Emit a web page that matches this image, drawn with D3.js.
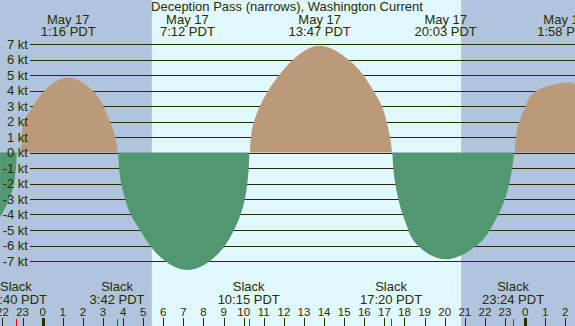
<!doctype html>
<html>
  <head>
    <script src="https://cdnjs.cloudflare.com/ajax/libs/d3/7.8.5/d3.min.js"></script>
    <style>
      body { margin: 0; }
      svg { display: block; }
    </style>
  </head>
  <body>
    <svg></svg>
    <script>
      var width = 575,
          height = 326;

      // hours after midnight May 17 (PDT), current speed in knots
      var hours = [-2.12, -2.04, -1.66, -1.43, -1.33, -1.29,
                   -1.08, -1.03, -0.93, -0.47, 0.11, 1.27, 2.49, 3.01, 3.35, 3.60, 3.73,
                   3.76, 3.80, 3.90, 4.10, 4.38, 4.84, 5.34, 6.09, 7.20, 8.32, 9.07, 9.52, 9.85, 10.06, 10.18, 10.25, 10.28,
                   10.31, 10.36, 10.51, 10.81, 11.22, 11.77, 12.47, 13.78, 15.20, 15.95, 16.45, 16.87, 17.11, 17.28, 17.38,
                   17.40, 17.44, 17.54, 17.69, 17.91, 18.19, 18.66, 20.05, 21.59, 22.25, 22.67, 23.00, 23.21, 23.36, 23.45,
                   23.48, 23.55, 23.71, 24.03, 24.58, 25.97, 26.48];
      var knots = [-4.1, -4, -3, -2, -1, 0,
                   0, 1, 2, 3, 4, 4.82, 4, 3, 2, 1, 0,
                   0, -1, -2, -3, -4, -5, -6, -7, -7.58, -7, -6, -5, -4, -3, -2, -1, 0,
                   0, 1, 2, 3, 4, 5, 6, 6.89, 6, 5, 4, 3, 2, 1, 0,
                   0, -1, -2, -3, -4, -5, -6, -6.89, -6, -5, -4, -3, -2, -1, 0,
                   0, 1, 2, 3, 4, 4.5, 4.4];

      var maxTimes = [1.27, 7.20, 13.78, 20.05, 25.97];
      var maxDates = ["May 17", "May 17", "May 17", "May 17", "May 18"];
      var maxLabels = ["1:16 PDT", "7:12 PDT", "13:47 PDT", "20:03 PDT", "1:58 PDT"];

      var slackTimes = [-1.33, 3.70, 10.25, 17.33, 23.40];
      var slackLabels = ["22:40 PDT", "3:42 PDT", "10:15 PDT", "17:20 PDT", "23:24 PDT"];

      var sunrise = 5.43, sunset = 20.82;
      var yTicks = d3.range(-7, 8);
      var title = "Deception Pass (narrows), Washington Current";

      var fg = "#2b2b00",
          nightColor = "#b0c4de",
          dayColor = "#e0f8ff",
          floodColor = "#bb9a7a",
          ebbColor = "#529672";

      var x = d3.scaleLinear().domain([-2.124, 26.483]).range([0, width]);
      var y = d3.scaleLinear().domain([-7, 7]).range([261, 44]);

      var data = hours.map(function(h, i) { return {t: h, v: knots[i]}; });

      // split into flood / ebb lobes, each running slack to slack
      var lobes = [], cur = [];
      data.forEach(function(d) {
        cur.push(d);
        if (d.v === 0 && cur.length > 1) { lobes.push(cur); cur = []; }
      });
      if (cur.length) lobes.push(cur);

      var svg = d3.select("svg").attr("width", width).attr("height", height)
          .style("font-family", "'Liberation Sans', Arial, sans-serif")
          .style("font-size", "13px");

      // night / day background
      svg.append("rect").attr("width", width).attr("height", height).attr("fill", nightColor);
      svg.append("rect")
          .attr("x", x(sunrise)).attr("width", x(sunset) - x(sunrise))
          .attr("height", height).attr("fill", dayColor);

      // grid lines
      svg.selectAll("line.grid").data(yTicks).enter().append("line")
          .attr("class", "grid")
          .attr("x1", 30).attr("x2", width)
          .attr("y1", function(d) { return Math.round(y(d)) + 0.5; })
          .attr("y2", function(d) { return Math.round(y(d)) + 0.5; })
          .attr("stroke", fg).attr("stroke-width", 1);

      // flood / ebb areas
      var area = d3.area().curve(d3.curveNatural)
          .x(function(d) { return x(d.t); })
          .y0(y(0))
          .y1(function(d) { return y(d.v); });
      svg.selectAll("path.lobe").data(lobes).enter().append("path")
          .attr("class", "lobe")
          .attr("d", area)
          .attr("fill", function(d) { return d3.sum(d, function(p) { return p.v; }) > 0 ? floodColor : ebbColor; });

      // y labels
      svg.selectAll("text.ylab").data(yTicks).enter().append("text")
          .attr("class", "ylab")
          .attr("x", 28).attr("y", function(d) { return y(d) + 4.5; })
          .attr("text-anchor", "end").attr("fill", fg)
          .text(function(d) { return d + " kt"; });

      // title
      svg.append("text").attr("x", 287).attr("y", 11)
          .attr("text-anchor", "middle").attr("fill", fg).text(title);

      // max current labels
      var maxG = svg.selectAll("g.max").data(maxTimes).enter().append("g")
          .attr("class", "max").attr("fill", fg).attr("text-anchor", "middle");
      maxG.append("text").attr("x", function(d) { return x(d); }).attr("y", 24)
          .text(function(d, i) { return maxDates[i]; });
      maxG.append("text").attr("x", function(d) { return x(d); }).attr("y", 35.5)
          .text(function(d, i) { return maxLabels[i]; });

      // slack labels
      var slackG = svg.selectAll("g.slack").data(slackTimes).enter().append("g")
          .attr("class", "slack").attr("fill", fg).attr("text-anchor", "middle");
      slackG.append("text").attr("x", function(d) { return x(d); }).attr("y", 291)
          .text("Slack");
      slackG.append("text").attr("x", function(d) { return x(d); }).attr("y", 303.5)
          .text(function(d, i) { return slackLabels[i]; });

      // hour ticks
      var hourTicks = d3.range(-2, 27);
      svg.selectAll("text.hour").data(hourTicks).enter().append("text")
          .attr("class", "hour")
          .attr("x", function(d) { return x(d); }).attr("y", 315.5)
          .attr("text-anchor", "middle").attr("fill", fg)
          .style("font-size", "11.5px")
          .text(function(d) { return ((d % 24) + 24) % 24; });
      svg.selectAll("rect.tick").data(hourTicks).enter().append("rect")
          .attr("class", "tick")
          .attr("x", function(d) { return d % 24 === 0 ? Math.round(x(d)) - 1 : Math.round(x(d)); })
          .attr("width", function(d) { return d % 24 === 0 ? 3 : 1; })
          .attr("y", 318).attr("height", 8)
          .attr("fill", fg);
      svg.selectAll("rect.slacktick").data(slackTimes).enter().append("rect")
          .attr("class", "slacktick")
          .attr("x", function(d) { return Math.round(x(d)); })
          .attr("width", 1).attr("y", 319).attr("height", 7)
          .attr("fill", "#ff0000");
    </script>
  </body>
</html>
